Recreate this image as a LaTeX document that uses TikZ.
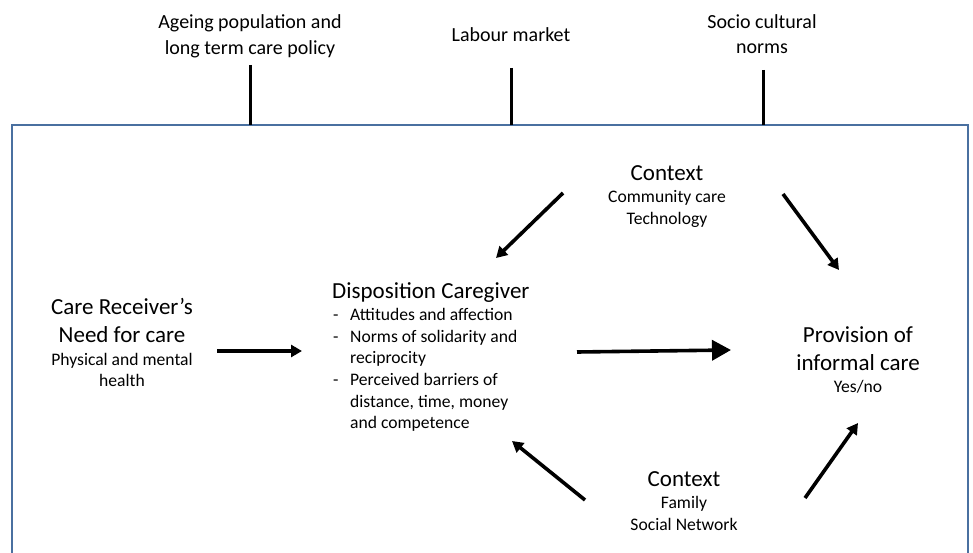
\documentclass[tikz,border=0pt]{standalone}
\usepackage{fontspec}
\setmainfont{Carlito}
\usetikzlibrary{arrows.meta}
\definecolor{boxblue}{RGB}{74,112,160}
\tikzset{
  big/.style={inner sep=0pt, anchor=base, font=\fontsize{23}{28}\selectfont},
  small/.style={inner sep=0pt, anchor=base, font=\fontsize{17.6}{21.5}\selectfont},
  toplbl/.style={inner sep=0pt, anchor=base, font=\fontsize{20}{26}\selectfont},
  leftsmall/.style={small, anchor=base west},
  flow/.style={line width=3.6pt, -{Triangle[length=11pt,width=12pt]}},
  mainflow/.style={line width=3.6pt, -{Triangle[length=19pt,width=20pt]}},
  infl/.style={line width=3pt},
}
\begin{document}
\begin{tikzpicture}[x=1pt,y=-1pt]
\useasboundingbox (0,0) rectangle (973,553);
\clip (0,0) rectangle (973,553);
% frame
\draw[boxblue, line width=2.6pt] (12,125) rectangle (968,580);
% top influences
\node[toplbl] (t1a) at (250,29) {Ageing population and};
\node[toplbl] (t1b) at (250,55) {long term care policy};
\node[toplbl] (t2) at (511,42) {Labour market};
\node[toplbl] (t3a) at (762,29) {Socio cultural};
\node[toplbl] (t3b) at (762,54) {norms};
\coordinate (c1t) at (250,65); \coordinate (c1b) at (250,125);
\coordinate (c2t) at (511,68); \coordinate (c2b) at (511,125);
\coordinate (c3t) at (763,70); \coordinate (c3b) at (763,125);
\draw[infl] (c1t) -- (c1b);
\draw[infl] (c2t) -- (c2b);
\draw[infl] (c3t) -- (c3b);
% Care receiver
\node[big] (cr1) at (122,314) {Care Receiver’s};
\node[big] (cr2) at (122,342) {Need for care};
\node[small] (cr3) at (122,365) {Physical and mental};
\node[small] (cr4) at (122,386) {health};
% Disposition caregiver
\node[big, anchor=base west] (dc) at (332,298) {Disposition Caregiver};
\node[leftsmall] (d1) at (333,320) {-};
\node[leftsmall] (dl1) at (350,320) {Attitudes and affection};
\node[leftsmall] (d2) at (333,342) {-};
\node[leftsmall] (dl2) at (350,342) {Norms of solidarity and};
\node[leftsmall] (dl3) at (350,363) {reciprocity};
\node[leftsmall] (d3) at (333,385) {-};
\node[leftsmall] (dl4) at (350,385) {Perceived barriers of};
\node[leftsmall] (dl5) at (350,407) {distance, time, money};
\node[leftsmall] (dl6) at (350,428) {and competence};
% Provision
\node[big] (p1) at (858,342) {Provision of};
\node[big] (p2) at (858,370) {informal care};
\node[small] (p3) at (858,392) {Yes/no};
% Context top
\node[big] (ct) at (667,181) {Context};
\node[small] (ct1) at (667,203) {Community care};
\node[small] (ct2) at (667,225) {Technology};
% Context bottom
\node[big] (cb) at (684,486) {Context};
\node[small] (cb1) at (684,508) {Family};
\node[small] (cb2) at (684,530) {Social Network};
% arrow end points
\coordinate (a1s) at (217,351); \coordinate (a1e) at (302,351);
\coordinate (a2s) at (577,352); \coordinate (a2e) at (731,350);
\coordinate (a3s) at (563,193); \coordinate (a3e) at (496,258);
\coordinate (a4s) at (783,194); \coordinate (a4e) at (839,270);
\coordinate (a5s) at (585,500); \coordinate (a5e) at (512,441);
\coordinate (a6s) at (805,498); \coordinate (a6e) at (858,423);
\draw[flow] (a1s) -- (a1e);
\draw[mainflow] (a2s) -- (a2e);
\draw[flow] (a3s) -- (a3e);
\draw[flow] (a4s) -- (a4e);
\draw[flow] (a5s) -- (a5e);
\draw[flow] (a6s) -- (a6e);
\end{tikzpicture}
\end{document}
